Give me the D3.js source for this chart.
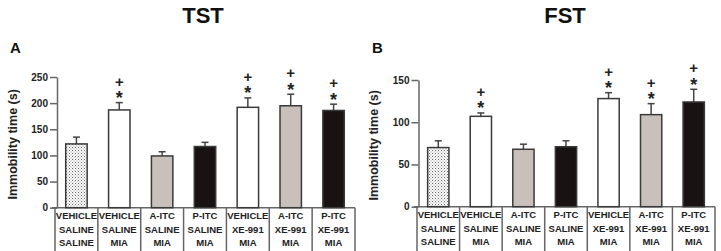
<!DOCTYPE html>
<html><head><meta charset="utf-8">
<script src="https://cdn.jsdelivr.net/npm/d3@7"></script>
<style>body{margin:0;background:#fff}svg{display:block}text{font-family:"Liberation Sans",Arial,sans-serif}</style>
</head><body><svg id="c" width="721" height="251"></svg>
<script>
const treatment = ["VEHICLE","VEHICLE","A-ITC","P-ITC","VEHICLE","A-ITC","P-ITC"];
const blocker = ["SALINE","SALINE","SALINE","SALINE","XE-991","XE-991","XE-991"];
const prenatal = ["SALINE","MIA","MIA","MIA","MIA","MIA","MIA"];
const tstMean = [122, 187, 99, 117, 192, 195, 186];
const tstErr = [13, 14, 8, 8, 18, 22, 12];
const fstMean = [70, 107, 68, 71, 128, 109, 124];
const fstErr = [8, 4, 6, 7, 7, 13, 15];
const tstSig = [false, true, false, false, true, true, true];
const fstSig = [false, true, false, false, true, true, true];
const fillKind = ["dots","white","gray","black","white","gray","black"];
const tstTicks = [0,50,100,150,200,250];
const fstTicks = [0,50,100,150];

const svg = d3.select("#c");
const defs = svg.append("defs");
const pat = defs.append("pattern").attr("id","dots").attr("patternUnits","userSpaceOnUse").attr("width",3).attr("height",3);
pat.append("rect").attr("width",3).attr("height",3).attr("fill","#fff");
pat.append("rect").attr("x",0).attr("y",0).attr("width",1).attr("height",1).attr("fill","#666");
pat.append("rect").attr("x",1.5).attr("y",1.5).attr("width",1).attr("height",1).attr("fill","#888");
const fillMap = {dots:"url(#dots)", white:"#ffffff", gray:"#c9c0bb", black:"#181212"};
const axisCol = "#666";

function panel(o){
  const g = svg.append("g");
  const x = d3.scaleBand().domain(d3.range(7)).range([o.x0,o.x1]).paddingInner(0).paddingOuter(0);
  const y = d3.scaleLinear().domain([0,o.max]).range([o.y0,o.yTop]);
  g.append("text").attr("x",o.tx).attr("y",23).attr("text-anchor","middle").attr("font-size",22).attr("font-weight","bold").attr("fill","#111").text(o.title);
  g.append("text").attr("x",o.lx).attr("y",53).attr("font-size",15).attr("font-weight","bold").attr("fill","#111").text(o.letter);
  const ax = g.append("g").attr("transform",`translate(${o.ax},0)`).call(d3.axisLeft(y).tickValues(o.ticks).tickSize(7).tickSizeOuter(0));
  ax.select(".domain").attr("stroke",axisCol).attr("stroke-width",1.5);
  ax.selectAll(".tick line").attr("stroke",axisCol).attr("stroke-width",1.5);
  ax.selectAll(".tick text").attr("font-size",10).attr("font-weight","bold").attr("fill","#222").attr("font-family","Liberation Sans, Arial, sans-serif").attr("x",-9);
  g.append("text").attr("transform",`translate(${o.ylx},${(o.y0+o.yTop)/2+2}) rotate(-90)`).attr("text-anchor","middle").attr("font-size",12.5).attr("font-weight","bold").attr("fill","#222").text("Immobility time (s)");
  g.append("line").attr("x1",o.x0-3).attr("x2",o.x1).attr("y1",o.y0).attr("y2",o.y0).attr("stroke",axisCol).attr("stroke-width",1.5);
  const seps = d3.range(8).map(i => i<7 ? x(i) : o.x1);
  g.selectAll("line.sep").data(seps).enter().append("line").attr("class","sep")
    .attr("x1",d=>d).attr("x2",d=>d).attr("y1",o.y0).attr("y2",251).attr("stroke",axisCol).attr("stroke-width",1.5);
  const rows = [treatment, blocker, prenatal];
  rows.forEach((r,ri)=>{
    g.selectAll(null).data(r).enter().append("text")
      .attr("x",(d,i)=>x(i)+x.bandwidth()/2).attr("y",o.y0+11.5+ri*13.5)
      .attr("text-anchor","middle").attr("font-size",9.5).attr("font-weight","bold").attr("fill","#222").text(d=>d);
  });
  const bw = x.bandwidth()*0.5;
  const cx = i => x(i)+x.bandwidth()/2;
  g.selectAll(null).data(o.mean).enter().append("line")
    .attr("x1",(d,i)=>cx(i)).attr("x2",(d,i)=>cx(i)).attr("y1",d=>y(d)).attr("y2",(d,i)=>y(d+o.err[i])).attr("stroke","#444").attr("stroke-width",1.5);
  g.selectAll(null).data(o.mean).enter().append("line")
    .attr("x1",(d,i)=>cx(i)-3.5).attr("x2",(d,i)=>cx(i)+3.5).attr("y1",(d,i)=>y(d+o.err[i])).attr("y2",(d,i)=>y(d+o.err[i])).attr("stroke","#444").attr("stroke-width",1.5);
  g.selectAll(null).data(o.mean).enter().append("rect")
    .attr("x",(d,i)=>cx(i)-bw/2).attr("width",bw).attr("y",d=>y(d)).attr("height",d=>o.y0-y(d))
    .attr("fill",(d,i)=>fillMap[fillKind[i]]).attr("stroke","#3a3a3a").attr("stroke-width",1.5);
  o.mean.forEach((d,i)=>{
    if(!o.sig[i]) return;
    const t = y(d+o.err[i]);
    const tx = g.append("text").attr("text-anchor","middle").attr("font-weight","bold").attr("fill","#222");
    tx.append("tspan").attr("x",cx(i)).attr("y",t-16).attr("font-size",15).text("+");
    tx.append("tspan").attr("x",cx(i)).attr("y",t+1.5).attr("font-size",18).text("*");
  });
}
panel({x0:55,x1:355,ax:57,y0:207.7,yTop:77,max:250,ticks:tstTicks,mean:tstMean,err:tstErr,sig:tstSig,title:"TST",tx:203,letter:"A",lx:10,ylx:17});
panel({x0:417,x1:715,ax:418.5,y0:206.7,yTop:80,max:150,ticks:fstTicks,mean:fstMean,err:fstErr,sig:fstSig,title:"FST",tx:565,letter:"B",lx:372,ylx:378});
</script></body></html>
